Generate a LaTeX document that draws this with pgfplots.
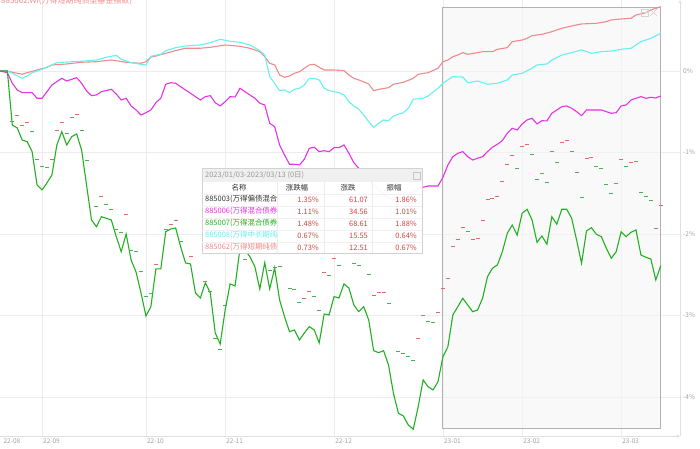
\documentclass[border=0pt]{standalone}
\usepackage{fontspec}
\setmainfont{Noto Sans CJK SC}
\usepackage{pgfplots}
\pgfplotsset{compat=1.18}
\definecolor{cgreen}{HTML}{22B022}
\definecolor{cmag}{HTML}{E433E4}
\definecolor{ccyan}{HTML}{66F0F0}
\definecolor{csalmon}{HTML}{EE8A8A}
\definecolor{dred}{HTML}{E06A6A}
\definecolor{dgreen}{HTML}{4CAF50}
\definecolor{valred}{HTML}{CC4444}
\definecolor{ticktext}{HTML}{A0A0A0}

\begin{document}
\begin{tikzpicture}
\begin{axis}[
  width=680bp, height=436bp, scale only axis,
  xmin=-8.485, xmax=128.89, ymin=-4.479, ymax=0.871,
  axis x line=bottom, axis y line=right,
  axis line style={draw=gray!25, line width=0.6bp},
  xtick={0,21,37,59,81,97,117},
  xticklabels={22-09,22-10,22-11,22-12,23-01,23-02,23-03},
  extra x ticks={-8}, extra x tick labels={22-08},
  extra x tick style={grid=none},
  ytick={-4,-3,-2,-1,0},
  yticklabels={-4\%,-3\%,-2\%,-1\%,0\%},
  grid=major, major grid style={draw=gray!15, line width=0.6bp},
  major tick length=0pt,
  x tick label style={anchor=north west, font=\fontsize{6.5}{7}\selectfont, text=ticktext, inner sep=0pt, yshift=-2.5bp, xshift=1bp},
  y tick label style={anchor=west, font=\fontsize{6.5}{7}\selectfont, text=ticktext, inner sep=0pt, xshift=3bp},
]
% highlighted range 2023/01/03 - 2023/03/13
\fill[gray!8, fill opacity=0.6] (axis cs:81,-4.393) rectangle (axis cs:125,0.785);
\draw[gray!60, line width=1bp] (axis cs:81,-4.393) rectangle (axis cs:125,0.785);

% 885062
\addplot[color=csalmon, line width=1.1bp, no marks] coordinates {
(-8.5,0) (-7,0) (-6,-0.016) (-4,-0.040) (-3,-0.021) (-1,0.012) (1,0.045) (2,0.074)
(5,0.086) (8,0.107) (11,0.114) (14,0.135) (17,0.107) (20,0.094) (21,0.114) (22,0.17)
(23,0.184) (25,0.217) (27,0.249) (29,0.279) (32,0.279) (34,0.291) (37,0.319) (40,0.303)
(42,0.279) (44,0.237) (45,0.175) (46,0.094) (47,0.074) (48,-0.049) (49,-0.077) (50,-0.061)
(51,-0.028) (52,-0.009) (54,0.074) (55,0.082) (56,0.045) (57,0.012) (59,0.012) (61,0.004)
(62,-0.049) (63,-0.090) (64,-0.110) (66,-0.160) (67,-0.242) (68,-0.225) (70,-0.205) (71,-0.163)
(73,-0.139) (75,-0.090) (76,-0.040) (78,-0.021) (80,0.033) (81,0.114) (82,0.135) (83,0.175)
(84,0.196) (85,0.225) (86,0.205) (88,0.225) (89,0.237) (91,0.237) (92,0.266) (94,0.286)
(95,0.360) (97,0.380) (98,0.401) (99,0.433) (101,0.450) (103,0.482) (105,0.524) (107,0.552)
(109,0.577) (112,0.585) (114,0.605) (115,0.626) (117,0.638) (119,0.647) (120,0.687) (122,0.715)
(123,0.748) (125,0.789)
};

% 885008
\addplot[color=ccyan, line width=1.1bp, no marks] coordinates {
(-8.5,0) (-7,0) (-6,-0.028) (-4,-0.090) (-3,-0.061) (-2,-0.021) (0,0.021) (2,0.074)
(3,0.102) (5,0.110) (8,0.119) (11,0.135) (13,0.168) (15,0.193) (16,0.144) (18,0.102)
(20,0.082) (21,0.074) (22,0.18) (24,0.205) (25,0.249) (27,0.286) (29,0.307) (32,0.319)
(34,0.347) (36,0.389) (38,0.364) (40,0.352) (42,0.319) (44,0.249) (45,0.196) (46,-0.070)
(47,-0.151) (48,-0.242) (49,-0.233) (50,-0.266) (51,-0.225) (52,-0.212) (53,-0.172) (54,-0.090)
(55,-0.090) (56,-0.110) (57,-0.212) (58,-0.242) (60,-0.266) (61,-0.294) (62,-0.377) (63,-0.429)
(64,-0.470) (65,-0.540) (66,-0.622) (67,-0.691) (68,-0.642) (69,-0.601) (70,-0.613) (71,-0.552)
(72,-0.531) (73,-0.512) (74,-0.458) (75,-0.347) (77,-0.335) (78,-0.307) (80,-0.212) (81,-0.151)
(82,-0.110) (83,-0.070) (85,-0.074) (86,-0.144) (88,-0.123) (90,-0.163) (92,-0.151) (94,-0.110)
(95,-0.049) (97,-0.028) (99,0.033) (100,0.074) (102,0.086) (103,0.135) (105,0.196) (107,0.225)
(109,0.258) (111,0.217) (113,0.237) (115,0.245) (117,0.266) (119,0.279) (121,0.360) (123,0.401)
(125,0.463)
};

% 885006
\addplot[color=cmag, line width=1.1bp, no marks] coordinates {
(-8.5,0) (-7,-0.021) (-6,-0.151) (-5,-0.233) (-4,-0.266) (-2,-0.266) (-1,-0.335) (0,-0.335)
(1,-0.254) (2,-0.172) (4,-0.090) (5,-0.123) (6,-0.102) (7,-0.082) (8,-0.151) (9,-0.245)
(10,-0.303) (11,-0.294) (12,-0.254) (14,-0.225) (15,-0.282) (16,-0.356) (17,-0.335) (18,-0.429)
(19,-0.479) (20,-0.540) (21,-0.512) (22,-0.479) (23,-0.389) (24,-0.335) (25,-0.163) (26,-0.144)
(27,-0.151) (28,-0.193) (29,-0.233) (30,-0.274) (32,-0.356) (33,-0.315) (34,-0.303) (35,-0.389)
(36,-0.429) (37,-0.377) (38,-0.315) (39,-0.319) (40,-0.212) (41,-0.254) (42,-0.294) (43,-0.335)
(44,-0.396) (45,-0.417) (46,-0.642) (47,-0.683) (48,-0.908) (49,-1.031) (50,-1.145) (51,-1.145)
(52,-1.153) (53,-1.083) (54,-0.948) (55,-0.936) (56,-0.990) (57,-0.978) (58,-0.990) (59,-0.941)
(60,-0.941) (61,-0.908) (62,-1.010) (63,-1.125) (64,-1.194) (66,-1.34) (68,-1.46) (70,-1.56)
(72,-1.58) (74,-1.52) (76,-1.44) (77,-1.427) (78,-1.411) (80,-1.411) (81,-1.304) (82,-1.153)
(83,-1.052) (84,-1.010) (85,-0.990) (86,-1.052) (87,-1.092) (88,-1.071) (89,-1.052) (90,-0.990)
(91,-0.936) (92,-0.899) (93,-0.855) (94,-0.764) (95,-0.703) (96,-0.724) (97,-0.650) (98,-0.601)
(99,-0.580) (100,-0.650) (101,-0.610) (102,-0.613) (103,-0.519) (104,-0.479) (105,-0.438) (106,-0.429)
(107,-0.458) (108,-0.499) (109,-0.548) (110,-0.479) (112,-0.479) (113,-0.479) (114,-0.499) (115,-0.519)
(116,-0.512) (117,-0.429) (118,-0.417) (119,-0.356) (120,-0.335) (121,-0.315) (122,-0.335) (123,-0.323)
(124,-0.331) (125,-0.307)
};

% 885007
\addplot[color=cgreen, line width=1.1bp, no marks] coordinates {
(-8.5,0) (-7,0) (-6,-0.663) (-5,-0.699) (-4,-0.847) (-3,-0.867) (-2,-0.990) (-1,-1.399)
(0,-1.460) (1,-1.374) (2,-1.276) (3,-0.908) (4,-0.745) (5,-0.908) (6,-0.806) (7,-0.773)
(8,-0.969) (9,-1.399) (10,-1.828) (11,-1.910) (12,-1.788) (14,-1.828) (15,-2.033) (16,-2.217)
(17,-2.000) (18,-2.32) (19,-2.466) (20,-2.724) (21,-3.006) (22,-2.892) (23,-2.429) (24,-2.429)
(25,-1.972) (26,-1.939) (27,-1.926) (28,-2.156) (29,-2.356) (30,-2.368) (31,-2.724) (32,-2.785)
(33,-2.598) (34,-2.724) (35,-3.215) (36,-3.350) (37,-2.933) (38,-2.613) (39,-2.638) (40,-2.18)
(41,-2.196) (42,-2.279) (43,-2.401) (44,-2.675) (45,-2.352) (46,-2.675) (47,-2.417) (48,-2.810)
(49,-3.015) (50,-3.199) (51,-3.178) (52,-3.301) (53,-3.215) (54,-3.137) (55,-3.178) (56,-3.337)
(57,-2.982) (58,-2.994) (59,-2.769) (60,-2.785) (61,-2.613) (62,-2.663) (63,-2.871) (64,-2.953)
(65,-2.892) (66,-3.055) (67,-3.432) (68,-3.456) (69,-3.432) (70,-3.607) (71,-3.955) (72,-4.200)
(73,-4.233) (74,-4.344) (75,-4.396) (76,-4.119) (77,-3.791) (78,-3.874) (79,-3.914) (80,-3.812)
(81,-3.506) (82,-3.383) (83,-2.994) (84,-2.892) (85,-2.789) (86,-2.871) (87,-2.953) (88,-2.933)
(89,-2.789) (90,-2.524) (91,-2.421) (92,-2.380) (93,-2.217) (94,-1.991) (95,-1.890) (96,-2.012)
(97,-1.746) (98,-1.697) (99,-1.828) (100,-2.102) (101,-2.025) (102,-2.126) (103,-1.788) (104,-1.881)
(105,-1.697) (106,-1.697) (107,-1.807) (108,-2.074) (109,-2.360) (110,-1.963) (111,-1.923) (112,-2.004)
(113,-2.033) (114,-2.175) (115,-2.298) (116,-2.217) (117,-1.972) (118,-2.033) (119,-1.979) (120,-1.951)
(121,-2.258) (122,-2.286) (123,-2.307) (124,-2.564) (125,-2.389)
};

% 885003 daily marks (up days)
\addplot[only marks, mark=-, mark size=2bp, color=dred, mark options={line width=0.8bp}] coordinates {
(-5,-0.540) (-3,-0.629) (2,-1.083) (3,-0.733) (4,-0.634) (6,-0.568) (7,-0.528) (12,-1.542)
(17,-1.758) (22,-2.728) (23,-2.368) (25,-1.942) (26,-1.877) (27,-1.828) (30,-2.270) (33,-2.577)
(53,-2.789) (54,-2.708) (57,-2.475) (59,-2.303) (68,-2.720) (69,-2.720) (76,-3.280) (77,-2.994)
(80,-2.963) (81,-2.663) (82,-2.544) (83,-2.147) (84,-2.061) (85,-1.923) (88,-2.053) (89,-1.837)
(90,-1.574) (91,-1.562) (92,-1.534) (93,-1.358) (94,-1.145) (95,-1.031) (97,-0.920) (98,-0.896)
(101,-1.255) (103,-0.982) (105,-0.875) (106,-0.855) (110,-1.071) (111,-1.059) (116,-1.378) (117,-1.080)
(119,-1.125) (120,-1.104) (124,-1.930) (125,-1.648)
};
% 885003 daily marks (down days)
\addplot[only marks, mark=-, mark size=2bp, color=dgreen, mark options={line width=0.8bp}] coordinates {
(-6,-0.622) (-4,-0.663) (-2,-0.745) (-1,-1.080) (0,-1.174) (1,-1.182) (5,-0.764) (8,-0.733)
(9,-1.092) (11,-1.665) (13,-1.632) (14,-1.697) (15,-1.942) (16,-1.984) (18,-2.205) (19,-2.217)
(20,-2.454) (21,-2.769) (28,-2.094) (34,-2.708) (35,-3.280) (36,-3.411) (37,-2.871) (41,-2.310)
(46,-2.442) (47,-2.409) (48,-2.401) (50,-2.666) (51,-2.679) (52,-2.843) (55,-2.761) (56,-2.941)
(58,-2.503) (60,-2.384) (63,-2.360) (64,-2.380) (66,-2.494) (67,-2.748) (70,-2.850) (72,-3.444)
(73,-3.464) (74,-3.506) (75,-3.546) (78,-3.067) (79,-3.086) (86,-1.972) (87,-2.061) (96,-1.194)
(99,-1.022) (100,-1.329) (102,-1.366) (104,-1.125) (107,-0.982) (108,-1.248) (109,-1.550) (112,-1.166)
(113,-1.194) (114,-1.390) (115,-1.501) (118,-1.174) (121,-1.493) (122,-1.542) (123,-1.583)
};
\end{axis}

% title, partly cut off by the top edge
\node[anchor=base west, inner sep=0pt, text=csalmon, font=\fontsize{8}{8}\selectfont] at (1bp,432.5bp) {885062.WI(万得短期纯债型基金指数)};

% box icons
\draw[gray!35, line width=0.6bp] (641bp,420bp) rectangle (648bp,427bp) (641bp,423.5bp) -- (648bp,423.5bp);
\draw[gray!35, line width=0.6bp] (650bp,420bp) -- (657bp,427bp) (650bp,427bp) -- (657bp,420bp);

% tooltip
\fill[white, fill opacity=0.95] (202bp,183bp) rectangle (422bp,268bp);
\fill[gray!12] (202bp,254bp) rectangle (422bp,268bp);
\draw[gray!35, line width=0.6bp] (202bp,183bp) rectangle (422bp,268bp);
\draw[gray!15, line width=0.5bp] (277bp,183bp) -- (277bp,254bp) (324bp,183bp) -- (324bp,254bp) (372bp,183bp) -- (372bp,254bp);
\foreach \yy in {242,230,218,206,194} \draw[gray!12, line width=0.5bp] (202bp,\yy bp) -- (422bp,\yy bp);
\draw[gray!45, line width=0.5bp] (413bp,257bp) rectangle (420bp,264bp);
\node[anchor=west, inner sep=0pt, text=gray!80, font=\fontsize{7.5}{8}\selectfont] at (205bp,261bp) {2023/01/03-2023/03/13 (0日)};
\begin{scope}[font=\fontsize{7.5}{8}\selectfont, text=black!80]
\node[inner sep=0pt] at (239bp,248bp) {名称};
\node[inner sep=0pt] at (297bp,248bp) {涨跌幅};
\node[inner sep=0pt] at (348bp,248bp) {涨跌};
\node[inner sep=0pt] at (394bp,248bp) {振幅};
\end{scope}
\begin{scope}
\clip (203bp,183bp) rectangle (276bp,242bp);
\begin{scope}[font=\fontsize{7.5}{8}\selectfont]
\node[anchor=west, inner sep=0pt, text=black!80] at (205bp,236.5bp) {885003(万得偏债混合};
\node[anchor=west, inner sep=0pt, text=cmag] at (205bp,224.5bp) {885006(万得混合债券};
\node[anchor=west, inner sep=0pt, text=cgreen] at (205bp,212.5bp) {885007(万得混合债券};
\node[anchor=west, inner sep=0pt, text=ccyan] at (205bp,200.5bp) {885008(万得中长期纯};
\node[anchor=west, inner sep=0pt, text=csalmon] at (205bp,188.5bp) {885062(万得短期纯债};
\end{scope}
\end{scope}
\begin{scope}[font=\fontsize{7.5}{8}\selectfont, text=valred]
\node[anchor=east, inner sep=0pt] at (319bp,236.5bp) {1.35\%};
\node[anchor=east, inner sep=0pt] at (368bp,236.5bp) {61.07};
\node[anchor=east, inner sep=0pt] at (417bp,236.5bp) {1.86\%};
\node[anchor=east, inner sep=0pt] at (319bp,224.5bp) {1.11\%};
\node[anchor=east, inner sep=0pt] at (368bp,224.5bp) {34.56};
\node[anchor=east, inner sep=0pt] at (417bp,224.5bp) {1.01\%};
\node[anchor=east, inner sep=0pt] at (319bp,212.5bp) {1.48\%};
\node[anchor=east, inner sep=0pt] at (368bp,212.5bp) {68.61};
\node[anchor=east, inner sep=0pt] at (417bp,212.5bp) {1.88\%};
\node[anchor=east, inner sep=0pt] at (319bp,200.5bp) {0.67\%};
\node[anchor=east, inner sep=0pt] at (368bp,200.5bp) {15.55};
\node[anchor=east, inner sep=0pt] at (417bp,200.5bp) {0.64\%};
\node[anchor=east, inner sep=0pt] at (319bp,188.5bp) {0.73\%};
\node[anchor=east, inner sep=0pt] at (368bp,188.5bp) {12.51};
\node[anchor=east, inner sep=0pt] at (417bp,188.5bp) {0.67\%};
\end{scope}

\pgfresetboundingbox
\useasboundingbox (0bp,-13bp) rectangle (700bp,436bp);
\end{tikzpicture}
\end{document}
